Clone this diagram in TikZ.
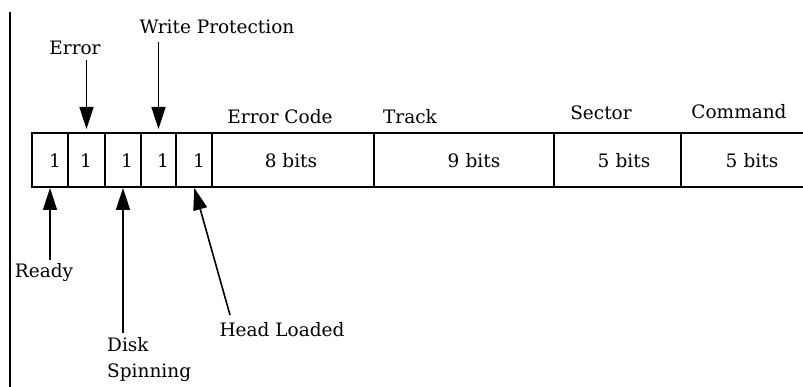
\documentclass[tikz,border=0pt]{standalone}
\usepackage{fontspec}
\setmainfont{DejaVu Serif}
\usetikzlibrary{arrows.meta}
\begin{document}
\begin{tikzpicture}[x=1pt,y=-1pt,
  every node/.style={font=\fontsize{18.5}{20}\selectfont, inner sep=0pt},
  cell/.style={draw, line width=1.6pt, outer sep=0pt, minimum height=54pt, anchor=north west},
  val/.style={},
  lbl/.style={},
  pointer/.style={line width=1.6pt, -{Triangle[width=14pt,length=22pt]}}]
\useasboundingbox (0,0) rectangle (803,387);
% left rule
\draw[line width=2pt] (10,12) -- (10,387);
% cells
\node[cell, minimum width=36pt] (c1) at (32,133) {};
\node[cell, minimum width=37pt] (c2) at (68,133) {};
\node[cell, minimum width=36pt] (c3) at (105,133) {};
\node[cell, minimum width=35pt] (c4) at (141,133) {};
\node[cell, minimum width=36pt] (c5) at (176,133) {};
\node[cell, minimum width=162pt] (c6) at (212,133) {};
\node[cell, minimum width=180pt] (c7) at (374,133) {};
\node[cell, minimum width=127pt] (c8) at (554,133) {};
\draw[line width=1.6pt] (c8.north east) -- ++(125,0);
\draw[line width=1.6pt] (c8.south east) -- ++(125,0);
% values
\node[val] (v1) at (55,161) {1};
\node[val] (v2) at (86,161) {1};
\node[val] (v3) at (127,161) {1};
\node[val] (v4) at (163,161) {1};
\node[val] (v5) at (199,161) {1};
\node[val] (v6) at (291,161) {8 bits};
\node[val] (v7) at (474,161) {9\,\,bits};
\node[val] (v8) at (624,161) {5\,\,bits};
\node[val] (v9) at (752,161) {5\,\,bits};
% field labels
\node[lbl] (lec) at (280,117) {Error Code};
\node[lbl] (ltr) at (410,117) {Track};
\node[lbl] (lse) at (601,113) {Sector};
\node[lbl] (lco) at (739,112) {Command};
% flag labels
\node[lbl] (err) at (75,48) {Error};
\node[lbl] (wp) at (217,27) {Write Protection};
\node[lbl] (rdy) at (44,273) {Ready};
\node[lbl, align=left, anchor=north west, font=\fontsize{18.5}{26}\selectfont] (dsk) at (107,337) {Disk\\Spinning};
\node[lbl] (hl) at (282,330) {Head Loaded};
\coordinate (hlstart) at (230,315);
% arrows
\draw[pointer, shorten >=4pt] (c2.north |- 0,60) -- (c2.north);
\draw[pointer, shorten >=4pt] (c4.north |- 0,42) -- (c4.north);
\draw[pointer, shorten >=1pt] (c1.south |- 0,260) -- (c1.south);
\draw[pointer, shorten >=1pt] (c3.south |- 0,333) -- (c3.south);
\draw[pointer, shorten >=1pt] (hlstart) -- (c5.south);
\end{tikzpicture}
\end{document}
